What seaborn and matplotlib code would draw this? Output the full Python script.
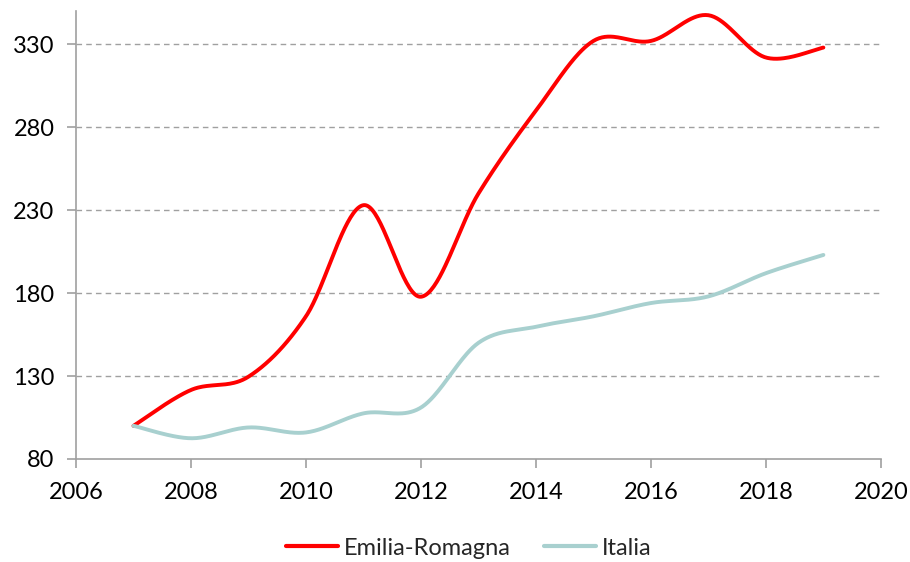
import numpy as np
import pandas as pd
import matplotlib
matplotlib.use("Agg")
import matplotlib.pyplot as plt
import seaborn as sns

years = [2007, 2008, 2009, 2010, 2011, 2012, 2013, 2014, 2015, 2016, 2017, 2018, 2019]
emilia = [100, 121.6, 129.6, 166, 233, 177.8, 240, 290, 332, 332, 347.5, 322, 328]
italia = [100, 92.5, 99, 96, 107.5, 111, 150, 159.7, 166, 174, 178, 192, 203]
series_names = ["Emilia-Romagna", "Italia"]
colors = ["#FF0000", "#A8D0CF"]
yticks = [80, 130, 180, 230, 280, 330]
xticks = [2006, 2008, 2010, 2012, 2014, 2016, 2018, 2020]


def smooth(x, y, n=40):
    # Catmull-Rom style cubic Bezier smoothing (like Excel's smoothed line)
    x = np.asarray(x, float)
    y = np.asarray(y, float)
    xs, ys = [], []
    m = len(x)
    for i in range(m - 1):
        p0 = (x[i - 1], y[i - 1]) if i > 0 else (x[i], y[i])
        p1 = (x[i], y[i])
        p2 = (x[i + 1], y[i + 1])
        p3 = (x[i + 2], y[i + 2]) if i + 2 < m else (x[i + 1], y[i + 1])
        c1 = (p1[0] + (p2[0] - p0[0]) / 6, p1[1] + (p2[1] - p0[1]) / 6)
        c2 = (p2[0] - (p3[0] - p1[0]) / 6, p2[1] - (p3[1] - p1[1]) / 6)
        t = np.linspace(0, 1, n, endpoint=(i == m - 2))
        bx = (1 - t) ** 3 * p1[0] + 3 * (1 - t) ** 2 * t * c1[0] + 3 * (1 - t) * t ** 2 * c2[0] + t ** 3 * p2[0]
        by = (1 - t) ** 3 * p1[1] + 3 * (1 - t) ** 2 * t * c1[1] + 3 * (1 - t) * t ** 2 * c2[1] + t ** 3 * p2[1]
        xs.append(bx)
        ys.append(by)
    return np.concatenate(xs), np.concatenate(ys)


sns.set_theme(style="white")
plt.rcParams["font.family"] = ["Lato", "DejaVu Sans"]

fig = plt.figure(figsize=(9.1, 5.62), dpi=100)
ax = fig.add_axes([0.0835, 0.1833, 0.8845, 0.797])

frames = []
for name, vals in zip(series_names, [emilia, italia]):
    sx, sy = smooth(years, vals)
    frames.append(pd.DataFrame({"year": sx, "value": sy, "series": name}))
df = pd.concat(frames, ignore_index=True)

sns.lineplot(data=df, x="year", y="value", hue="series", palette=colors,
             sort=False, estimator=None, linewidth=2.8, ax=ax, legend=True)

ax.set_xlim(2006, 2020)
ax.set_ylim(80, 350)
ax.set_xticks(xticks)
ax.set_yticks(yticks)
ax.set_xlabel("")
ax.set_ylabel("")

for yv in yticks[1:]:
    ax.axhline(yv, color="#A0A0A0", linestyle=(0, (4, 3)), linewidth=1.0, zorder=0)

for s in ["top", "right"]:
    ax.spines[s].set_visible(False)
for s in ["left", "bottom"]:
    ax.spines[s].set_color("#A0A0A0")
    ax.spines[s].set_linewidth(1.2)

ax.tick_params(axis="both", which="major", direction="out", length=6.5, width=1.2,
               color="#A0A0A0", labelsize=17, labelcolor="black", left=True, bottom=True)
ax.tick_params(axis="x", pad=10)
ax.tick_params(axis="y", pad=9)

handles, labels = ax.get_legend_handles_labels()
leg = ax.legend(handles, labels, loc="center", bbox_to_anchor=(0.488, -0.199),
                ncol=2, frameon=False, fontsize=17, handlelength=2.2, handletextpad=0.25,
                columnspacing=1.4)
for h in leg.get_lines():
    h.set_linewidth(3)

fig.savefig("out.png", dpi=100, facecolor="white")
